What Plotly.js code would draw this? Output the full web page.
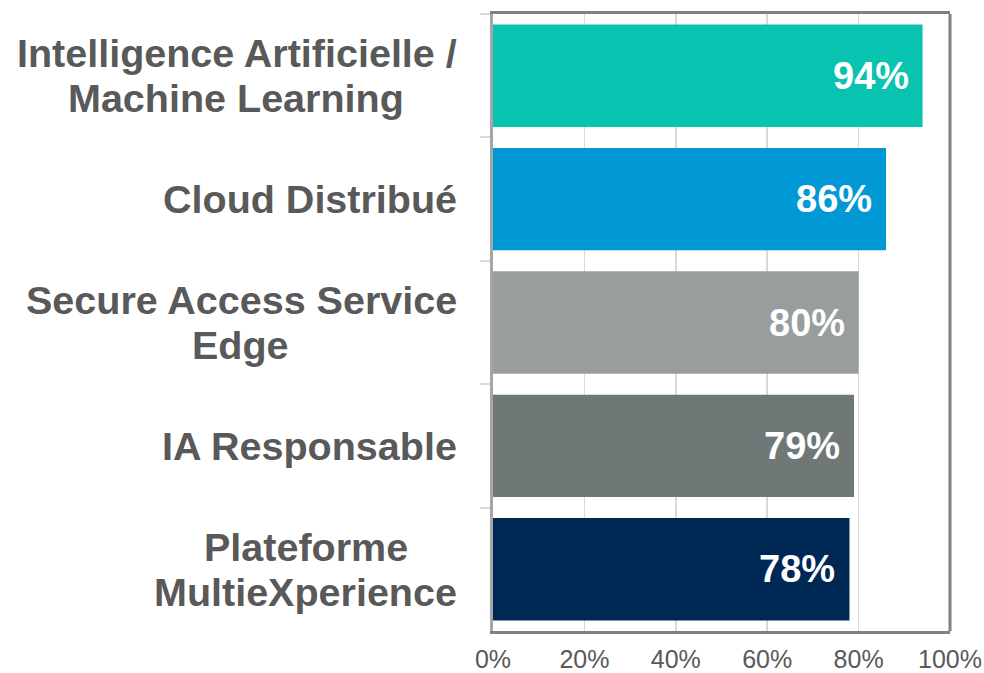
<!DOCTYPE html>
<html>
<head>
<meta charset="utf-8">
<script src="https://cdn.plot.ly/plotly-3.0.1.min.js"></script>
<style>html,body{margin:0;padding:0;background:#fff;}#chart{width:984px;height:673px;}</style>
</head>
<body>
<div id="chart"></div>
<script>
const categories = [
  "Intelligence Artificielle /<br>Machine Learning",
  "Cloud Distribué",
  "Secure Access Service<br>Edge",
  "IA Responsable",
  "Plateforme<br>MultieXperience"
];
const values = [94, 86, 80, 79, 78];
const barColors = ["#08C3B0", "#0099D5", "#989E9D", "#6F7777", "#002855"];
const tickVals = [0, 20, 40, 60, 80, 100];
const tickLabels = ["0%", "20%", "40%", "60%", "80%", "100%"];

const FONT = "Liberation Sans, Arial, sans-serif";
const LABEL_SIZE = 39.5;
const LINE_GAP = 45;

const ctx = document.createElement("canvas").getContext("2d");
ctx.font = "bold " + LABEL_SIZE + "px 'Liberation Sans', Arial, sans-serif";

const trace = {
  type: "bar",
  orientation: "h",
  y: categories,
  x: values,
  marker: {color: barColors, line: {width: 0}},
  hoverinfo: "skip"
};

const annotations = [];
categories.forEach((c, i) => {
  const lines = c.split("<br>");
  const n = lines.length;
  const widths = lines.map(l => ctx.measureText(l).width);
  const W = Math.max(...widths);
  lines.forEach((ln, k) => {
    annotations.push({
      xref: "paper", yref: "y", x: 0, y: c,
      xshift: -34 - (W - widths[k]) / 2,
      yshift: ((n - 1) / 2 - k) * LINE_GAP,
      xanchor: "right", yanchor: "middle",
      text: "<b>" + ln + "</b>", showarrow: false,
      font: {family: FONT, size: LABEL_SIZE, color: "#595959"}
    });
  });
  annotations.push({
    xref: "x", yref: "y", x: values[i], y: c, xshift: -12,
    xanchor: "right", yanchor: "middle",
    text: "<b>" + values[i] + "%</b>", showarrow: false,
    font: {family: FONT, size: 38, color: "#ffffff"}
  });
});

const layout = {
  width: 984, height: 673,
  margin: {l: 493, r: 34, t: 14, b: 42, pad: 0},
  paper_bgcolor: "#ffffff", plot_bgcolor: "#ffffff",
  showlegend: false,
  bargap: 0.17,
  font: {family: FONT, color: "#595959"},
  xaxis: {
    range: [0, 100], tickvals: tickVals, ticktext: tickLabels,
    showgrid: true, gridcolor: "#D9D9D9", gridwidth: 1.5,
    zeroline: false,
    showline: true, mirror: true, linecolor: "#7A8282", linewidth: 3,
    ticks: "", ticklabelstandoff: 4,
    tickfont: {family: FONT, size: 25, color: "#595959"},
    fixedrange: true
  },
  yaxis: {
    autorange: "reversed",
    showticklabels: false,
    showgrid: false, zeroline: false,
    showline: true, linecolor: "#A6A6A6", linewidth: 3,
    ticks: "outside", tickson: "boundaries", ticklen: 10,
    tickcolor: "#D9D9D9", tickwidth: 2,
    fixedrange: true
  },
  shapes: [{
    type: "line", xref: "paper", yref: "paper",
    x0: 1, x1: 1, y0: 0, y1: 1,
    line: {color: "#7A8282", width: 3}
  }],
  annotations: annotations
};

Plotly.newPlot("chart", [trace], layout, {displayModeBar: false, staticPlot: true});
</script>
</body>
</html>
